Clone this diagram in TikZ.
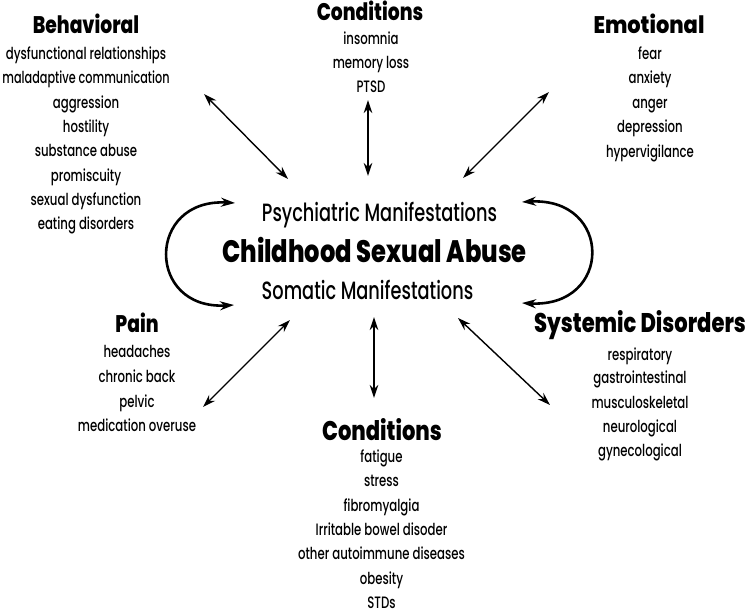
\documentclass[tikz,border=0pt]{standalone}
\usepackage{fontspec}
\setmainfont{Poppins}
\newfontfamily\itemfont{Poppins}[UprightFont={* Medium},FakeStretch=0.71]
\newfontfamily\headfont{Poppins}[UprightFont={* ExtraBold},FakeStretch=0.78]
\usetikzlibrary{arrows.meta}
\tikzset{
  item/.style={anchor=base,inner sep=0pt,font=\itemfont\fontsize{16.5}{18}\selectfont},
  head/.style={anchor=base,inner sep=0pt,font=\headfont\fontsize{24}{26}\selectfont},
  bighead/.style={anchor=base,inner sep=0pt,font=\headfont\fontsize{27}{30}\selectfont},
  sub/.style={anchor=base,inner sep=0pt,font=\itemfont\fontsize{25}{28}\selectfont},
  main/.style={anchor=base,inner sep=0pt,font=\headfont\fontsize{31}{34}\selectfont},
  link/.style={{Stealth[length=13pt,width=8.5pt]}-{Stealth[length=13pt,width=8.5pt]},line width=1.4pt},
  loop/.style={{Stealth[length=14pt,width=9pt]}-{Stealth[length=14pt,width=9pt]},line width=2.6pt},
}
\begin{document}
\begin{tikzpicture}[x=1pt,y=-1pt]
\useasboundingbox (0,0) rectangle (750,612);
% Behavioral
\node[head] (behh) at (86,34) {Behavioral};
\foreach \t [count=\i] in {dysfunctional relationships,\scalebox{0.96}[1]{maladaptive communication},aggression,hostility,substance abuse,promiscuity,sexual dysfunction,eating disorders}
  \node[item] (beh\i) at (86,{59.5+24.35*(\i-1)}) {\t};
% Top conditions
\node[head] (tch) at (370,21) {Conditions};
\foreach \t [count=\i] in {insomnia,memory loss,PTSD}
  \node[item] (tc\i) at (371,{45+24*(\i-1)}) {\t};
% Emotional
\node[head] (emh) at (649,34) {\scalebox{1.12}[1]{Emotional}};
\foreach \t [count=\i] in {fear,anxiety,anger,depression,hypervigilance}
  \node[item] (em\i) at (650,{59.5+24.4*(\i-1)}) {\t};
% Center
\node[sub] (psy) at (379.5,222) {Psychiatric Manifestations};
\node[main] (csa) at (374.5,263) {Childhood Sexual Abuse};
\node[sub] (som) at (367.5,300) {Somatic Manifestations};
% Pain
\node[head] (painh) at (137,333) {Pain};
\foreach \t [count=\i] in {headaches,chronic back,pelvic,medication overuse}
  \node[item] (pain\i) at (137,{358+24.5*(\i-1)}) {\t};
% Systemic
\node[bighead] (sysh) at (640,333) {Systemic Disorders};
\foreach \t [count=\i] in {respiratory,gastrointestinal,musculoskeletal,neurological,gynecological}
  \node[item] (sys\i) at (640,{360+24*(\i-1)}) {\t};
% Bottom conditions
\node[bighead] (bch) at (382,440) {Conditions};
\foreach \t [count=\i] in {fatigue,stress,fibromyalgia,Irritable bowel disoder,other autoimmune diseases,obesity,STDs}
  \node[item] (bc\i) at (381.5,{462.5+24.3*(\i-1)}) {\t};
% arrow end points
\coordinate (a1) at (204,94);  \coordinate (b1) at (288,179);
\coordinate (a2) at (368,100); \coordinate (b2) at (368,176);
\coordinate (a3) at (549,92);  \coordinate (b3) at (463,178);
\coordinate (a4) at (290,320); \coordinate (b4) at (203,407);
\coordinate (a5) at (374,317); \coordinate (b5) at (374,398);
\coordinate (a6) at (458,318); \coordinate (b6) at (550,405);
\coordinate (l1) at (235,203); \coordinate (l2) at (234,305);
\coordinate (r1) at (522,202); \coordinate (r2) at (522,303);
\draw[link] (a1) -- (b1);
\draw[link] (a2) -- (b2);
\draw[link] (a3) -- (b3);
\draw[link] (a4) -- (b4);
\draw[link] (a5) -- (b5);
\draw[link] (a6) -- (b6);
\draw[loop] (l1) .. controls (146,198) and (146,310) .. (l2);
\draw[loop] (r1) .. controls (613,197) and (613,308) .. (r2);
\end{tikzpicture}
\end{document}
